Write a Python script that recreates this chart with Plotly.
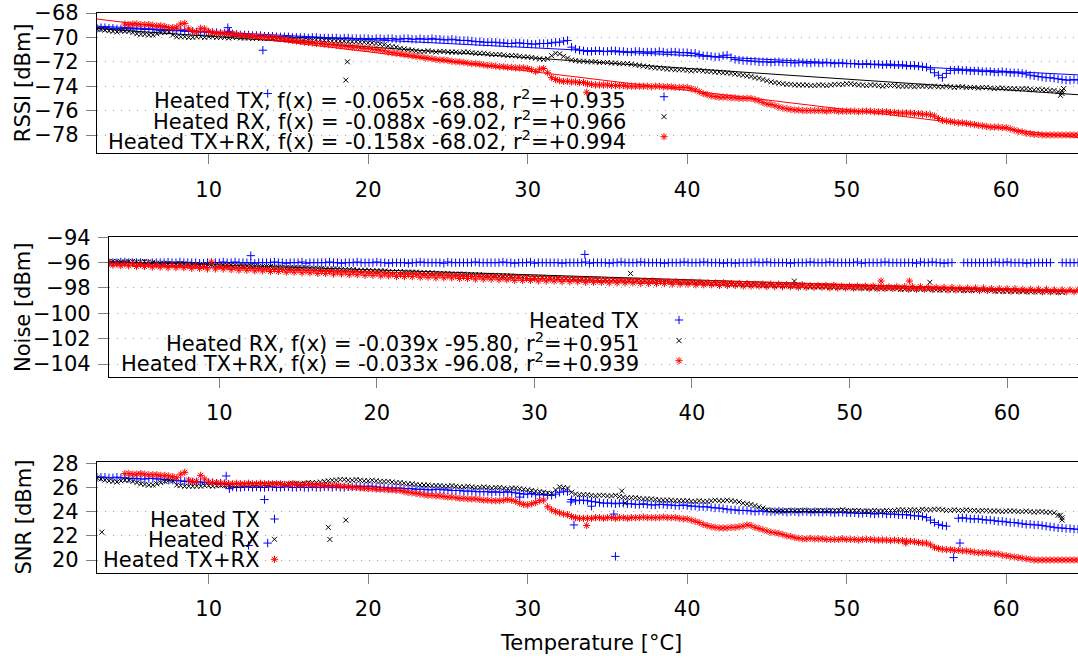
import plotly.graph_objects as go

W, H = 1078, 658
FONT = "DejaVu Sans"
BLUE, BLACK, RED = "#0000ff", "#000000", "#ff0000"

# ---------------- data ----------------
# readings on the whole/half degree grid
TEMP = [3.0, 3.5, 4.0, 4.5, 5.0, 5.5, 6.0, 6.5, 7.0, 7.5,
        8.0, 8.5, 9.0, 9.5, 10.0, 10.5, 11.0, 11.5, 12.0, 12.5,
        13.0, 13.5, 14.0, 14.5, 15.0, 15.5, 16.0, 16.5, 17.0, 17.5,
        18.0, 18.5, 19.0, 19.5, 20.0, 20.5, 21.0, 21.5, 22.0, 22.5,
        23.0, 23.5, 24.0, 24.5, 25.0, 25.5, 26.0, 26.5, 27.0, 27.5,
        28.0, 28.5, 29.0, 29.5, 30.0, 30.5, 31.0, 31.5, 32.0, 32.5,
        33.0, 33.5, 34.0, 34.5, 35.0, 35.5, 36.0, 36.5, 37.0, 37.5,
        38.0, 38.5, 39.0, 39.5, 40.0, 40.5, 41.0, 41.5, 42.0, 42.5,
        43.0, 43.5, 44.0, 44.5, 45.0, 45.5, 46.0, 46.5, 47.0, 47.5,
        48.0, 48.5, 49.0, 49.5, 50.0, 50.5, 51.0, 51.5, 52.0, 52.5,
        53.0, 53.5, 54.0, 54.5, 55.0, 55.5, 56.0, 56.5, 57.0, 57.5,
        58.0, 58.5, 59.0, 59.5, 60.0, 60.5, 61.0, 61.5, 62.0, 62.5,
        63.0, 63.5, 64.0, 64.5]
# readings in between (quarter degrees)
TEMP_B = [3.25, 3.75, 4.25, 4.75, 5.25, 5.75, 6.25, 6.75, 7.25, 7.75,
          8.25, 8.75, 9.25, 9.75, 10.25, 10.75, 11.25, 11.75, 12.25, 12.75,
          13.25, 13.75, 14.25, 14.75, 15.25, 15.75, 16.25, 16.75, 17.25, 17.75,
          18.25, 18.75, 19.25, 19.75, 20.25, 20.75, 21.25, 21.75, 22.25, 22.75,
          23.25, 23.75, 24.25, 24.75, 25.25, 25.75, 26.25, 26.75, 27.25, 27.75,
          28.25, 28.75, 29.25, 29.75, 30.25, 30.75, 31.25, 31.75, 32.25, 32.75,
          33.25, 33.75, 34.25, 34.75, 35.25, 35.75, 36.25, 36.75, 37.25, 37.75,
          38.25, 38.75, 39.25, 39.75, 40.25, 40.75, 41.25, 41.75, 42.25, 42.75,
          43.25, 43.75, 44.25, 44.75, 45.25, 45.75, 46.25, 46.75, 47.25, 47.75,
          48.25, 48.75, 49.25, 49.75, 50.25, 50.75, 51.25, 51.75, 52.25, 52.75,
          53.25, 53.75, 54.25, 54.75, 55.25, 55.75, 56.25, 56.75, 57.25, 57.75,
          58.25, 58.75, 59.25, 59.75, 60.25, 60.75, 61.25, 61.75, 62.25, 62.75,
          63.25, 63.75, 64.25]

RSSI_TX = [-69.25, -69.2, -69.25, -69.3, -69.25, -69.3, -69.35, -69.35, -69.4, -69.4,
           -69.45, -69.5, -69.5, -69.55, -69.6, -69.6, -69.65, -69.7, -69.8, -69.8,
           -69.85, -69.9, -69.9, -69.95, -69.95, -70.0, -70.0, -70.0, -70.05, -70.05,
           -70.05, -70.05, -70.1, -70.1, -70.1, -70.1, -70.15, -70.1, -70.15, -70.1,
           -70.15, -70.15, -70.1, -70.15, -70.2, -70.2, -70.25, -70.3, -70.35, -70.4,
           -70.4, -70.45, -70.5, -70.45, -70.5, -70.55, -70.5, -70.45, -70.4, -70.25,
           -70.95, -71.1, -71.15, -71.1, -71.15, -71.1, -71.15, -71.2, -71.15, -71.2,
           -71.2, -71.2, -71.2, -71.25, -71.25, -71.3, -71.5, -71.55, -71.6, -71.45,
           -71.8, -71.9, -71.95, -72.0, -72.0, -72.0, -72.05, -72.05, -72.05, -72.1,
           -72.05, -72.1, -72.1, -72.1, -72.15, -72.15, -72.2, -72.2, -72.2, -72.2,
           -72.25, -72.25, -72.3, -72.35, -72.45, -72.9, -73.3, -72.7, -72.65, -72.7,
           -72.75, -72.8, -72.8, -72.85, -72.85, -72.9, -72.95, -73.1, -73.2, -73.3,
           -73.35, -73.45, -73.5, -73.5]
RSSI_TX_B = [-69.2, -69.25, -69.3, -69.25, -69.3, -69.3, -69.35, -69.4, -69.4, -69.45,
             -69.45, -69.5, -69.55, -69.55, -69.6, -69.65, -69.65, -69.75, -69.8, -69.85,
             -69.85, -69.9, -69.95, -69.95, -70.0, -70.0, -70.05, -70.0, -70.05, -70.05,
             -70.1, -70.05, -70.1, -70.1, -70.15, -70.1, -70.1, -70.15, -70.1, -70.15,
             -70.1, -70.15, -70.15, -70.2, -70.15, -70.25, -70.25, -70.35, -70.4, -70.4,
             -70.45, -70.5, -70.45, -70.5, -70.55, -70.5, -70.5, -70.4, -70.3, -70.8,
             -71.05, -71.15, -71.1, -71.15, -71.1, -71.15, -71.2, -71.15, -71.2, -71.2,
             -71.15, -71.25, -71.2, -71.25, -71.3, -71.4, -71.5, -71.6, -71.5, -71.65,
             -71.85, -71.9, -71.95, -72.0, -72.05, -72.0, -72.05, -72.1, -72.05, -72.1,
             -72.1, -72.05, -72.15, -72.1, -72.15, -72.2, -72.15, -72.2, -72.25, -72.2,
             -72.25, -72.3, -72.3, -72.4, -72.6, -73.1, -72.95, -72.7, -72.7, -72.75,
             -72.75, -72.8, -72.85, -72.8, -72.9, -72.9, -73.0, -73.15, -73.25, -73.3,
             -73.4, -73.5, -73.45]
RSSI_RX = [-69.3, -69.4, -69.5, -69.45, -69.5, -69.7, -69.75, -69.8, -69.6, -69.55,
           -69.95, -69.95, -70.0, -69.95, -69.95, -70.0, -70.0, -70.0, -70.05, -70.05,
           -70.05, -70.1, -70.1, -70.1, -70.15, -70.2, -70.2, -70.25, -70.2, -70.25,
           -70.3, -70.3, -70.35, -70.4, -70.45, -70.5, -70.6, -70.75, -70.9, -71.0,
           -71.1, -71.15, -71.15, -71.15, -71.2, -71.2, -71.2, -71.25, -71.3, -71.35,
           -71.4, -71.45, -71.5, -71.55, -71.6, -71.7, -71.8, -71.5, -71.35, -71.7,
           -71.9, -71.95, -72.0, -72.05, -72.05, -72.1, -72.15, -72.2, -72.3, -72.4,
           -72.5, -72.55, -72.6, -72.65, -72.7, -72.7, -72.75, -72.8, -72.85, -72.9,
           -73.0, -73.1, -73.2, -73.35, -73.55, -73.7, -73.8, -73.85, -73.9, -73.9,
           -73.95, -73.9, -73.9, -73.85, -73.8, -73.85, -73.9, -73.9, -73.95, -73.95,
           -73.95, -74.0, -74.0, -74.0, -74.0, -74.0, -74.05, -74.05, -74.05, -74.1,
           -74.1, -74.1, -74.15, -74.15, -74.2, -74.2, -74.2, -74.25, -74.25, -74.3,
           -74.35, -74.6, None, None]
RSSI_RX_B = [-69.35, -69.45, -69.55, -69.5, -69.6, -69.75, -69.8, -69.7, -69.6, -69.8,
             -69.95, -70.0, -69.95, -70.0, -69.95, -70.0, -70.05, -70.0, -70.05, -70.1,
             -70.1, -70.05, -70.15, -70.15, -70.2, -70.15, -70.25, -70.2, -70.25, -70.3,
             -70.3, -70.35, -70.35, -70.4, -70.45, -70.55, -70.7, -70.8, -70.95, -71.05,
             -71.15, -71.1, -71.2, -71.15, -71.2, -71.25, -71.2, -71.3, -71.3, -71.4,
             -71.4, -71.5, -71.5, -71.6, -71.65, -71.75, -71.75, -71.3, -71.55, -71.85,
             -71.95, -72.0, -72.0, -72.05, -72.1, -72.15, -72.15, -72.25, -72.35, -72.45,
             -72.5, -72.6, -72.65, -72.65, -72.75, -72.7, -72.8, -72.85, -72.9, -72.95,
             -73.05, -73.15, -73.3, -73.45, -73.65, -73.75, -73.85, -73.9, -73.9, -73.95,
             -73.9, -73.95, -73.85, -73.85, -73.8, -73.9, -73.95, -73.9, -74.0, -73.95,
             -74.0, -74.0, -74.05, -74.0, -74.05, -74.05, -74.0, -74.1, -74.05, -74.1,
             -74.15, -74.1, -74.2, -74.15, -74.2, -74.25, -74.2, -74.3, -74.3, -74.35,
             -74.45, None, None]
RSSI_TXRX = [None, None, None, None, -68.95, -68.9, -68.95, -69.0, -69.05, -69.2,
             -69.15, -68.85, -69.5, -69.25, -69.5, -69.65, -69.65, -69.7, -69.8, -69.85,
             -69.9, -69.95, -70.0, -70.1, -70.2, -70.3, -70.4, -70.45, -70.5, -70.6,
             -70.65, -70.7, -70.8, -70.85, -70.9, -71.0, -71.1, -71.25, -71.35, -71.45,
             -71.55, -71.65, -71.75, -71.85, -71.9, -72.0, -72.05, -72.15, -72.2, -72.3,
             -72.35, -72.4, -72.45, -72.5, -72.55, -72.8, -72.55, -73.3, -73.55, -73.6,
             -73.65, -73.7, -73.85, -73.9, -73.9, -73.95, -73.95, -74.0, -74.0, -74.0,
             -74.0, -74.05, -74.05, -74.1, -74.1, -74.3, -74.6, -74.8, -74.9, -74.9,
             -74.95, -75.0, -75.0, -75.2, -75.45, -75.6, -75.8, -75.9, -75.95, -76.0,
             -76.0, -76.0, -76.0, -76.05, -76.05, -76.05, -76.05, -76.05, -76.1, -76.1,
             -76.15, -76.2, -76.2, -76.25, -76.3, -76.45, -76.8, -76.9, -77.0, -77.05,
             -77.15, -77.25, -77.35, -77.35, -77.4, -77.6, -77.75, -77.9, -77.95, -78.0,
             -78.0, -78.0, -78.0, -78.0]
RSSI_TXRX_B = [None, None, None, -68.9, -68.9, -68.95, -68.95, -69.05, -69.1, -69.2,
               -68.9, -69.3, -69.55, -69.3, -69.6, -69.65, -69.7, -69.75, -69.85, -69.9,
               -69.95, -70.0, -70.05, -70.15, -70.25, -70.35, -70.4, -70.5, -70.55, -70.6,
               -70.7, -70.75, -70.8, -70.9, -70.95, -71.05, -71.2, -71.3, -71.4, -71.5,
               -71.6, -71.7, -71.8, -71.85, -71.95, -72.0, -72.1, -72.15, -72.25, -72.3,
               -72.4, -72.45, -72.5, -72.5, -72.65, -72.6, -72.9, -73.45, -73.6, -73.65,
               -73.7, -73.8, -73.9, -73.9, -73.95, -73.95, -74.0, -74.0, -74.0, -74.05,
               -74.0, -74.05, -74.1, -74.1, -74.2, -74.45, -74.7, -74.85, -74.9, -74.95,
               -75.0, -75.0, -75.1, -75.35, -75.5, -75.7, -75.85, -75.95, -76.0, -76.0,
               -76.0, -76.05, -76.0, -76.05, -76.05, -76.1, -76.05, -76.1, -76.1, -76.15,
               -76.2, -76.2, -76.25, -76.3, -76.35, -76.65, -76.85, -76.95, -77.0, -77.1,
               -77.2, -77.3, -77.35, -77.4, -77.5, -77.7, -77.85, -77.95, -78.0, -78.0,
               -78.0, -78.0, -78.0]
RSSI_TX_OUT_T = [11.2, 11.3, 13.4, 13.7]
RSSI_TX_OUT = [-69.2, -69.5, -71.05, -74.6]
RSSI_RX_OUT_T = [18.7, 18.6, 63.4, 63.5, 63.6]
RSSI_RX_OUT = [-72.0, -73.5, -74.75, -74.4, -74.2]
RSSI_TXRX_OUT_T = [33.7]
RSSI_TXRX_OUT = [-74.5]

NOISE_TX = [-96.0, -96.0, -95.95, -96.0, -96.0, -96.05, -96.0, -96.0, -96.0, -95.95,
            -96.0, -96.0, -96.05, -96.0, -96.0, -96.0, -95.95, -96.0, -96.0, -96.0,
            -96.0, -95.95, -96.0, -96.0, -96.0, -96.05, -96.0, -96.0, -95.95, -96.0,
            -96.0, -96.0, -96.0, -96.0, -95.95, -96.0, -96.0, -96.0, -96.05, -96.0,
            -96.0, -96.0, -96.0, -95.95, -96.0, -96.0, -96.0, -96.0, -96.0, -96.0,
            -95.95, -96.0, -96.0, -96.0, -96.05, -96.0, -96.0, -96.0, -96.0, -96.0,
            -96.0, -96.05, -96.0, -96.0, -96.0, -95.95, -96.0, -96.0, -96.0, -96.0,
            -96.0, -96.0, -96.0, -95.95, -96.0, -96.0, -96.0, -96.0, -96.05, -96.0,
            -96.0, -96.0, -95.95, -96.0, -96.0, -96.0, -96.0, -96.0, -96.0, -95.95,
            -96.0, -96.0, -96.0, -96.0, -96.0, -95.95, -96.0, -96.0, -96.0, -96.0,
            -96.0, -96.0, -96.0, -95.95, -96.0, -96.0, -96.05, -96.0, None, -96.0,
            -96.0, -96.0, -96.0, -96.0, -95.95, -96.0, -96.0, -96.0, -96.0, -96.0,
            None, -96.0, -96.0, -96.0]
NOISE_TX_B = [-96.0, -95.95, -96.0, -96.0, -96.05, -96.0, -96.0, -95.95, -96.0, -96.0,
              -96.0, -96.05, -96.0, -96.0, -95.95, -96.0, -96.0, -96.0, -96.05, -96.0,
              -96.0, -96.0, -96.05, -96.0, -95.95, -96.0, -96.0, -96.0, -96.0, -96.05,
              -96.0, -95.95, -96.0, -96.0, -96.0, -96.05, -96.0, -96.0, -96.0, -95.95,
              -96.0, -96.0, -96.05, -96.0, -96.0, -96.0, -95.95, -96.0, -96.0, -96.0,
              -96.0, -96.05, -96.0, -95.95, -96.0, -96.0, -96.0, -96.05, -96.0, -96.0,
              -95.95, -96.0, -96.0, -96.05, -96.0, -96.0, -96.0, -95.95, -96.0, -96.0,
              -96.05, -96.0, -96.0, -96.0, -96.0, -95.95, -96.0, -96.0, -96.0, -96.05,
              -96.0, -96.0, -96.0, -95.95, -96.0, -96.0, -96.05, -96.0, -96.0, -96.0,
              -96.0, -95.95, -96.0, -96.0, -96.0, -96.05, -96.0, -96.0, -95.95, -96.0,
              -96.0, -96.0, -96.05, -96.0, -95.95, -96.0, -96.0, None, -96.0, -96.0,
              -96.0, -96.0, -95.95, -96.0, -96.0, -96.0, -96.05, -96.0, -96.0, -96.0,
              None, -96.0, -96.0]
NOISE_RX = [-95.9, -95.9, -95.95, -95.9, -95.95, -95.95, -96.05, -96.05, -96.1, -96.1,
            -96.1, -96.15, -96.15, -96.15, -96.2, -96.2, -96.2, -96.25, -96.25, -96.3,
            -96.3, -96.35, -96.35, -96.4, -96.4, -96.4, -96.45, -96.45, -96.5, -96.5,
            -96.55, -96.55, -96.6, -96.6, -96.65, -96.65, -96.7, -96.7, -96.75, -96.75,
            -96.8, -96.8, -96.85, -96.85, -96.9, -96.9, -96.95, -96.95, -97.0, -97.0,
            -97.05, -97.05, -97.1, -97.1, -97.15, -97.15, -97.2, -97.2, -97.25, -97.25,
            -97.3, -97.3, -97.3, -97.35, -97.35, -97.4, -97.4, -97.4, -97.45, -97.45,
            -97.5, -97.5, -97.5, -97.55, -97.55, -97.6, -97.6, -97.65, -97.65, -97.7,
            -97.7, -97.75, -97.75, -97.8, -97.75, -97.8, -97.8, -97.85, -97.85, -97.9,
            -97.9, -97.9, -97.95, -97.95, -97.95, -98.0, -98.0, -98.0, -98.05, -98.05,
            -98.05, -98.1, -98.1, -98.1, -98.1, -98.15, -98.15, -98.15, -98.15, -98.2,
            -98.2, -98.2, -98.2, -98.25, -98.25, -98.25, -98.25, -98.3, -98.3, -98.3,
            -98.3, -98.35, None, None]
NOISE_RX_B = [-95.9, -95.95, -95.9, -95.95, -95.9, -96.0, -96.05, -96.1, -96.1, -96.1,
              -96.15, -96.15, -96.15, -96.2, -96.2, -96.2, -96.25, -96.25, -96.3, -96.3,
              -96.3, -96.35, -96.4, -96.4, -96.4, -96.45, -96.45, -96.5, -96.5, -96.55,
              -96.55, -96.6, -96.6, -96.65, -96.65, -96.7, -96.7, -96.75, -96.75, -96.8,
              -96.8, -96.85, -96.85, -96.9, -96.9, -96.95, -96.95, -97.0, -97.0, -97.05,
              -97.05, -97.1, -97.1, -97.15, -97.15, -97.2, -97.2, -97.25, -97.25, -97.3,
              -97.3, -97.3, -97.35, -97.35, -97.4, -97.4, -97.4, -97.45, -97.45, -97.5,
              -97.5, -97.5, -97.55, -97.55, -97.6, -97.6, -97.65, -97.65, -97.7, -97.7,
              -97.75, -97.75, -97.8, -97.8, -97.8, -97.8, -97.85, -97.85, -97.9, -97.9,
              -97.9, -97.95, -97.95, -97.95, -98.0, -98.0, -98.0, -98.05, -98.05, -98.05,
              -98.1, -98.1, -98.1, -98.1, -98.15, -98.15, -98.15, -98.15, -98.2, -98.2,
              -98.2, -98.2, -98.25, -98.25, -98.25, -98.25, -98.3, -98.3, -98.3, -98.3,
              -98.35, None, None]
NOISE_TXRX = [-96.05, -96.1, -96.1, -96.1, -96.15, -96.15, -96.2, -96.2, -96.2, -96.25,
              -96.25, -96.25, -96.3, -95.95, -96.3, -96.35, -96.4, -96.4, -96.45, -96.5,
              -96.5, -96.55, -96.55, -96.6, -96.6, -96.65, -96.65, -96.7, -96.7, -96.75,
              -96.75, -96.8, -96.8, -96.85, -96.85, -96.9, -96.9, -96.95, -96.95, -96.95,
              -97.0, -97.0, -97.0, -97.05, -97.05, -97.1, -97.1, -97.1, -97.15, -97.15,
              -97.2, -97.2, -97.2, -97.25, -97.25, -97.25, -97.3, -97.3, -97.3, -97.35,
              -97.35, -97.35, -97.4, -97.4, -97.4, -97.4, -97.45, -97.45, -97.45, -97.45,
              -97.5, -97.5, -97.5, -97.55, -97.55, -97.55, -97.6, -97.6, -97.6, -97.65,
              -97.65, -97.65, -97.7, -97.7, -97.7, -97.7, -97.75, -97.75, -97.75, -97.8,
              -97.8, -97.8, -97.8, -97.85, -97.85, -97.85, -97.85, -97.85, -97.9, -97.9,
              -97.9, -97.9, -97.9, -97.9, -97.95, -97.95, -97.95, -97.95, -98.0, -98.0,
              -98.0, -98.0, -98.05, -98.05, -98.05, -98.05, -98.1, -98.1, -98.1, -98.1,
              -98.15, -98.15, -98.15, -98.15]
NOISE_TXRX_B = [-96.2, -96.25, -96.25, -96.3, -96.3, -96.35, -96.35, -96.4, -96.4, -96.4,
                -96.45, -96.45, -96.5, -96.5, -96.5, -96.55, -96.6, -96.6, -96.65, -96.65,
                -96.7, -96.7, -96.75, -96.75, -96.8, -96.8, -96.85, -96.85, -96.9, -96.9,
                -96.95, -96.95, -97.0, -97.0, -97.05, -97.05, -97.1, -97.1, -97.1, -97.15,
                -97.15, -97.2, -97.2, -97.2, -97.25, -97.25, -97.3, -97.3, -97.3, -97.35,
                -97.35, -97.4, -97.4, -97.4, -97.45, -97.45, -97.45, -97.5, -97.5, -97.5,
                -97.55, -97.55, -97.55, -97.6, -97.6, -97.6, -97.6, -97.65, -97.65, -97.65,
                -97.65, -97.7, -97.7, -97.7, -97.75, -97.75, -97.75, -97.8, -97.8, -97.8,
                -97.85, -97.85, -97.85, -97.9, -97.9, -97.9, -97.9, -97.95, -97.95, -97.95,
                -97.95, -98.0, -98.0, -98.0, -98.0, -98.0, -98.05, -98.05, -98.05, -98.05,
                -98.05, -98.1, -98.1, -98.1, -98.1, -98.1, -98.15, -98.15, -98.15, -98.15,
                -98.2, -98.2, -98.2, -98.2, -98.25, -98.25, -98.25, -98.25, -98.3, -98.3,
                -98.3, -98.3, -98.3]
NOISE_TX_OUT_T = [12.0, 33.2]
NOISE_TX_OUT = [-95.45, -95.35]
NOISE_RX_OUT_T = [36.1, 46.5, 55.1]
NOISE_RX_OUT = [-96.85, -97.45, -97.55]
NOISE_TXRX_OUT_T = [52.0, 53.8]
NOISE_TXRX_OUT = [-97.45, -97.45]

SNR_TX = [26.85, 26.85, 26.8, 26.8, 26.75, 26.75, 26.7, 26.75, 26.7, 26.6,
          26.55, 26.5, 26.45, 26.45, 26.4, 26.35, 26.3, 26.05, 26.0, 26.05,
          26.05, 26.0, 26.05, 26.0, 26.05, 26.0, 26.0, 26.05, 26.0, 26.05,
          26.05, 26.0, 26.05, 26.1, 26.1, 26.05, 26.0, 25.95, 25.95, 25.9,
          25.85, 25.85, 25.8, 25.85, 25.8, 25.75, 25.7, 25.7, 25.65, 25.65,
          25.65, 25.6, 25.6, 25.5, 25.45, 25.4, 25.4, 25.35, 25.6, 25.65,
          24.9, 24.95, 24.85, 24.75, 24.7, 24.65, 24.7, 24.65, 24.6, 24.6,
          24.55, 24.6, 24.55, 24.5, 24.5, 24.45, 24.4, 24.35, 24.3, 24.2,
          24.15, 24.1, 24.05, 24.05, 24.0, 24.0, 24.0, 24.0, 23.95, 24.0,
          24.0, 23.95, 23.95, 23.95, 23.9, 23.9, 23.85, 23.85, 23.85, 23.8,
          23.8, 23.75, 23.7, 23.65, 23.5, 23.1, 22.85, None, 23.45, 23.45,
          23.4, 23.35, 23.3, 23.2, 23.15, 23.1, 23.0, 22.95, 22.9, 22.8,
          22.7, 22.65, 22.6, 22.55]
SNR_TX_B = [26.85, 26.8, 26.85, 26.8, 26.75, 26.7, 26.75, 26.7, 26.65, 26.6,
            26.55, 26.5, 26.45, 26.4, 26.4, 26.35, 26.25, 26.0, 26.05, 26.0,
            26.0, 26.05, 26.0, 26.05, 26.0, 26.05, 26.0, 26.0, 26.05, 26.0,
            26.0, 26.05, 26.1, 26.05, 26.1, 26.0, 25.95, 25.95, 25.9, 25.9,
            25.85, 25.8, 25.85, 25.8, 25.75, 25.75, 25.7, 25.65, 25.65, 25.6,
            25.6, 25.65, 25.55, 25.45, 25.5, 25.4, 25.35, 25.45, 25.7, 25.0,
            24.95, 24.9, 24.8, 24.7, 24.7, 24.7, 24.65, 24.6, 24.65, 24.55,
            24.6, 24.55, 24.5, 24.55, 24.45, 24.4, 24.4, 24.3, 24.25, 24.15,
            24.1, 24.1, 24.0, 24.05, 24.0, 24.05, 23.95, 24.0, 24.0, 23.95,
            23.95, 24.0, 23.9, 23.95, 23.9, 23.85, 23.9, 23.8, 23.85, 23.8,
            23.75, 23.75, 23.65, 23.6, 23.3, 22.95, 22.8, None, 23.5, 23.4,
            23.4, 23.3, 23.25, 23.2, 23.1, 23.05, 22.95, 22.9, 22.85, 22.75,
            22.65, 22.6, 22.55]
SNR_RX = [26.8, 26.6, 26.5, 26.55, 26.6, 26.4, 26.25, 26.2, 26.4, 26.6,
          26.2, 26.1, 26.1, 26.1, 26.15, 26.15, 26.15, 26.15, 26.2, 26.2,
          26.25, 26.25, 26.3, 26.3, 26.3, 26.35, 26.35, 26.4, 26.45, 26.55,
          26.6, 26.65, 26.6, 26.6, 26.55, 26.55, 26.5, 26.45, 26.4, 26.3,
          26.25, 26.2, 26.15, 26.15, 26.1, 26.1, 26.05, 26.05, 26.0, 26.0,
          26.0, 25.95, 25.95, 25.9, 25.8, 25.7, 25.6, 25.5, 26.05, 25.95,
          25.45, 25.4, 25.35, 25.35, 25.3, 25.35, 25.2, 25.15, 25.1, 25.05,
          25.0, 24.95, 24.95, 24.9, 24.9, 24.85, 24.85, 24.9, 24.9, 24.95,
          24.85, 24.7, 24.6, 24.4, 24.15, 24.05, 24.05, 24.1, 24.1, 24.1,
          24.05, 24.1, 24.1, 24.1, 24.1, 24.1, 24.05, 24.05, 24.05, 24.1,
          24.1, 24.15, 24.15, 24.1, 24.15, 24.2, 24.15, 24.1, 24.1, 24.15,
          24.1, 24.1, 24.05, 24.05, 24.05, 24.05, 24.0, 24.0, 24.0, 23.95,
          23.9, 23.5, None, None]
SNR_RX_B = [26.7, 26.55, 26.45, 26.6, 26.5, 26.3, 26.2, 26.3, 26.5, 26.55,
            26.15, 26.1, 26.1, 26.15, 26.1, 26.15, 26.2, 26.15, 26.2, 26.25,
            26.2, 26.25, 26.3, 26.25, 26.35, 26.3, 26.4, 26.4, 26.5, 26.6,
            26.65, 26.6, 26.65, 26.55, 26.6, 26.5, 26.5, 26.4, 26.35, 26.3,
            26.2, 26.2, 26.15, 26.1, 26.15, 26.05, 26.1, 26.0, 26.05, 25.95,
            26.0, 25.9, 25.95, 25.85, 25.75, 25.65, 25.55, 25.8, 26.0, 25.6,
            25.4, 25.4, 25.3, 25.35, 25.3, 25.25, 25.15, 25.15, 25.05, 25.05,
            24.95, 24.95, 24.9, 24.9, 24.85, 24.9, 24.85, 24.95, 24.9, 24.9,
            24.8, 24.65, 24.5, 24.3, 24.1, 24.05, 24.1, 24.05, 24.1, 24.05,
            24.1, 24.05, 24.1, 24.15, 24.05, 24.1, 24.05, 24.1, 24.05, 24.1,
            24.15, 24.1, 24.15, 24.2, 24.15, 24.2, 24.1, 24.15, 24.1, 24.1,
            24.05, 24.1, 24.05, 24.0, 24.05, 24.0, 24.05, 23.95, 24.0, 23.95,
            23.7, None, None]
SNR_TXRX = [None, None, None, None, 27.15, 27.1, 27.1, 27.05, 27.0, 26.95,
            26.8, 27.25, 26.5, 27.0, 26.45, 26.4, 26.35, 26.3, 26.3, 26.35,
            26.3, 26.3, 26.3, 26.3, 26.25, 26.25, 26.25, 26.2, 26.2, 26.15,
            26.15, 26.1, 26.0, 25.95, 25.9, 25.85, 25.85, 25.8, 25.75, 25.6,
            25.5, 25.4, 25.35, 25.3, 25.2, 25.15, 25.1, 25.05, 25.0, 24.95,
            24.9, 24.95, 24.95, 24.7, 24.55, 24.75, 24.95, 24.15, 23.9, 23.75,
            23.5, 23.45, 23.45, 23.5, 23.5, 23.45, 23.5, 23.5, 23.5, 23.5,
            23.5, 23.55, 23.5, 23.45, 23.4, 23.2, 22.95, 22.75, 22.65, 22.65,
            22.7, 22.8, 22.85, 22.6, 22.4, 22.25, 22.1, 21.95, 21.8, 21.75,
            21.75, 21.75, 21.7, 21.7, 21.7, 21.7, 21.7, 21.7, 21.65, 21.65,
            21.65, 21.6, 21.55, 21.45, 21.4, 21.05, 20.9, 20.85, 20.8, 20.75,
            20.65, 20.6, 20.55, 20.5, 20.35, 20.25, 20.15, 20.05, 20.0, 20.0,
            20.0, 20.0, 20.0, 20.0]
SNR_TXRX_B = [None, None, None, 27.15, 27.1, 27.15, 27.05, 27.05, 27.0, 26.9,
              27.1, 26.6, 26.5, 26.7, 26.4, 26.35, 26.3, 26.35, 26.3, 26.3,
              26.35, 26.3, 26.3, 26.25, 26.3, 26.2, 26.25, 26.2, 26.15, 26.15,
              26.1, 26.05, 26.0, 25.95, 25.9, 25.85, 25.8, 25.75, 25.65, 25.55,
              25.45, 25.35, 25.3, 25.25, 25.2, 25.1, 25.05, 25.05, 24.95, 24.9,
              24.9, 25.0, 24.85, 24.6, 24.65, 24.9, 24.4, 24.0, 23.8, 23.6,
              23.45, 23.45, 23.5, 23.45, 23.5, 23.5, 23.45, 23.5, 23.55, 23.5,
              23.5, 23.5, 23.5, 23.4, 23.3, 23.1, 22.85, 22.7, 22.65, 22.7,
              22.75, 22.9, 22.7, 22.5, 22.3, 22.2, 22.0, 21.85, 21.75, 21.8,
              21.75, 21.7, 21.7, 21.75, 21.7, 21.65, 21.7, 21.65, 21.65, 21.6,
              21.6, 21.55, 21.5, 21.4, 21.25, 20.95, 20.85, 20.8, 20.75, 20.7,
              20.6, 20.6, 20.5, 20.4, 20.3, 20.2, 20.1, 20.0, 20.0, 20.0,
              20.0, 20.0, 20.0]
SNR_TX_OUT_T = [11.1, 11.3, 13.5, 12.5, 13.7, 29.5, 32.7, 32.9, 34.0, 35.4, 35.5, 56.7, 57.1]
SNR_TX_OUT = [26.95, 25.9, 25.0, 21.2, 21.4, 25.2, 24.8, 22.9, 24.45, 23.8, 20.3, 20.2, 21.4]
SNR_RX_OUT_T = [3.3, 17.5, 17.6, 18.6, 35.9, 36.1, 63.5, 63.4]
SNR_RX_OUT = [22.3, 22.7, 21.7, 23.3, 25.7, 24.7, 23.3, 23.7]
SNR_TXRX_OUT_T = [33.7, 53.7]
SNR_TXRX_OUT = [22.85, 21.4]

# linear fits printed in the keys (slope, intercept)
FIT_RSSI_TX = (-0.065, -68.88)
FIT_RSSI_RX = (-0.088, -69.02)
FIT_RSSI_TXRX = (-0.158, -68.02)
FIT_NOISE_RX = (-0.039, -95.80)
FIT_NOISE_TXRX = (-0.033, -96.08)

X_RANGE = [3.0, 64.5]
X_TICKS = [10, 20, 30, 40, 50, 60]
RSSI_TICKS = [-78, -76, -74, -72, -70, -68]
NOISE_TICKS = [-104, -102, -100, -98, -96, -94]
SNR_TICKS = [20, 22, 24, 26, 28]

KEY_RSSI = ["Heated TX, f(x) = -0.065x -68.88, r<sup>2</sup>=+0.935",
            "Heated RX, f(x) = -0.088x -69.02, r<sup>2</sup>=+0.966",
            "Heated TX+RX, f(x) = -0.158x -68.02, r<sup>2</sup>=+0.994"]
KEY_NOISE = ["Heated TX",
             "Heated RX, f(x) = -0.039x -95.80, r<sup>2</sup>=+0.951",
             "Heated TX+RX, f(x) = -0.033x -96.08, r<sup>2</sup>=+0.939"]
KEY_SNR = ["Heated TX", "Heated RX", "Heated TX+RX"]

for lst in (RSSI_TX, RSSI_RX, RSSI_TXRX, NOISE_TX, NOISE_RX, NOISE_TXRX, SNR_TX, SNR_RX, SNR_TXRX):
    assert len(lst) == len(TEMP)
for lst in (RSSI_TX_B, RSSI_RX_B, RSSI_TXRX_B, NOISE_TX_B, NOISE_RX_B, NOISE_TXRX_B,
            SNR_TX_B, SNR_RX_B, SNR_TXRX_B):
    assert len(lst) == len(TEMP_B)

# ---------------- styling / layout geometry (pixels) ----------------
FS = 21
STYLE = {
    "TX": dict(symbol="cross-thin-open", size=6, color=BLUE),
    "RX": dict(symbol="x-thin-open", size=5, color=BLACK),
    "TXRX": dict(symbol="asterisk-open", size=6, color=RED),
}

PANELS = [
    dict(x="x", y="y", left=97, top=13, bottom=153.3, yrange=[-79.5, -68], yticks=RSSI_TICKS,
         title="RSSI [dBm]",
         series=[("TX", RSSI_TX, RSSI_TX_B, RSSI_TX_OUT_T, RSSI_TX_OUT, FIT_RSSI_TX),
                 ("RX", RSSI_RX, RSSI_RX_B, RSSI_RX_OUT_T, RSSI_RX_OUT, FIT_RSSI_RX),
                 ("TXRX", RSSI_TXRX, RSSI_TXRX_B, RSSI_TXRX_OUT_T, RSSI_TXRX_OUT, FIT_RSSI_TXRX)],
         keys=KEY_RSSI, key_right=627.5, key_rows=[99, 119.5, 139.5], sym_x=664,
         sym_rows=[96.7, 116.7, 136.7], box=[97, 707, 86.5, 153.3]),
    dict(x="x2", y="y2", left=109, top=237.3, bottom=376.7, yrange=[-105, -94], yticks=NOISE_TICKS,
         title="Noise [dBm]",
         series=[("TX", NOISE_TX, NOISE_TX_B, NOISE_TX_OUT_T, NOISE_TX_OUT, None),
                 ("RX", NOISE_RX, NOISE_RX_B, NOISE_RX_OUT_T, NOISE_RX_OUT, FIT_NOISE_RX),
                 ("TXRX", NOISE_TXRX, NOISE_TXRX_B, NOISE_TXRX_OUT_T, NOISE_TXRX_OUT, FIT_NOISE_TXRX)],
         keys=KEY_NOISE, key_right=640.5, key_rows=[321, 341.5, 361.5], sym_x=679,
         sym_rows=[320, 340.7, 360.7], box=[109, 719, 310, 376.7]),
    dict(x="x3", y="y3", left=97, top=462.3, bottom=572.7, yrange=[18.95, 28.08], yticks=SNR_TICKS,
         title="SNR [dBm]",
         series=[("TX", SNR_TX, SNR_TX_B, SNR_TX_OUT_T, SNR_TX_OUT, None),
                 ("RX", SNR_RX, SNR_RX_B, SNR_RX_OUT_T, SNR_RX_OUT, None),
                 ("TXRX", SNR_TXRX, SNR_TXRX_B, SNR_TXRX_OUT_T, SNR_TXRX_OUT, None)],
         keys=KEY_SNR, key_right=261.5, key_rows=[519.5, 539.5, 559.5], sym_x=274.5,
         sym_rows=[519, 539.3, 559.3], box=[97, 289, 509, 572.7]),
]

LEG_DX = 20  # px from legend box left edge to its symbol centre


def fx(p):
    return p / W


def fy(p):
    return 1 - p / H


fig = go.Figure()
layout = dict(width=W, height=H, margin=dict(l=0, r=0, t=0, b=0, autoexpand=False),
              paper_bgcolor="white", plot_bgcolor="white",
              font=dict(family=FONT, size=FS, color="black"),
              showlegend=True, annotations=[], shapes=[])

leg_i = 0
for k, p in enumerate(PANELS):
    sfx = "" if k == 0 else str(k + 1)
    for j, (key, vals, vals_b, ot, ov, fit) in enumerate(p["series"]):
        st = STYLE[key]
        leg_i += 1
        lname = "legend" if leg_i == 1 else f"legend{leg_i}"
        fig.add_trace(go.Scatter(
            x=TEMP + TEMP_B + ot, y=vals + vals_b + ov, mode="markers", name="",
            xaxis=p["x"], yaxis=p["y"], legend=lname, showlegend=True,
            marker=dict(symbol=st["symbol"], size=st["size"], color=st["color"],
                        line=dict(color=st["color"], width=1)),
            hoverinfo="skip"))
        layout[lname] = dict(x=fx(p["sym_x"] - LEG_DX), y=fy(p["sym_rows"][j]),
                             xanchor="left", yanchor="middle", bgcolor="rgba(0,0,0,0)",
                             borderwidth=0, font=dict(size=10), itemclick=False,
                             itemdoubleclick=False)
        if fit is not None:
            a, b = fit
            fig.add_trace(go.Scatter(
                x=X_RANGE, y=[a * X_RANGE[0] + b, a * X_RANGE[1] + b], mode="lines",
                xaxis=p["x"], yaxis=p["y"], showlegend=False, hoverinfo="skip",
                line=dict(color=st["color"], width=1)))
        layout["annotations"].append(dict(
            text=p["keys"][j], xref="paper", yref="paper", x=fx(p["key_right"]),
            y=fy(p["key_rows"][j]), xanchor="right", yanchor="middle", showarrow=False,
            font=dict(size=FS, family=FONT, color="black")))

    layout["xaxis" + sfx] = dict(
        domain=[fx(p["left"]), 1.0], anchor=p["y"], range=X_RANGE, tickvals=X_TICKS,
        showline=True, mirror=True, linecolor="black", linewidth=1.2,
        ticks="outside", ticklen=10, tickcolor="#808080", tickwidth=1,
        showgrid=False, zeroline=False, ticklabelstandoff=7,
        tickfont=dict(size=FS, family=FONT, color="black"))
    layout["yaxis" + sfx] = dict(
        domain=[fy(p["bottom"]), fy(p["top"])], anchor=p["x"], range=p["yrange"],
        tickvals=p["yticks"], showline=True, mirror=False, linecolor="black", linewidth=1.2,
        ticks="outside", ticklen=10, tickcolor="#808080", tickwidth=1,
        showgrid=True, gridcolor="#a0a0a0", gridwidth=1, griddash="1px,7px",
        zeroline=False, ticklabelstandoff=3,
        tickfont=dict(size=FS, family=FONT, color="black"))
    layout["annotations"].append(dict(
        text=p["title"], xref="paper", yref="paper", x=fx(23),
        y=fy((p["top"] + p["bottom"]) / 2), textangle=-90, showarrow=False,
        xanchor="center", yanchor="middle", font=dict(size=FS, family=FONT, color="black")))
    bx0, bx1, by0, by1 = p["box"]
    layout["shapes"].append(dict(
        type="rect", xref="paper", yref="paper", x0=fx(bx0), x1=fx(bx1),
        y0=fy(by1), y1=fy(by0), fillcolor="white", line=dict(width=0), layer="between"))

layout["annotations"].append(dict(
    text="Temperature [°C]", xref="paper", yref="paper", x=fx(591), y=fy(643),
    xanchor="center", yanchor="middle", showarrow=False,
    font=dict(size=FS, family=FONT, color="black")))

fig.update_layout(**layout)
fig.write_html("out.html")
